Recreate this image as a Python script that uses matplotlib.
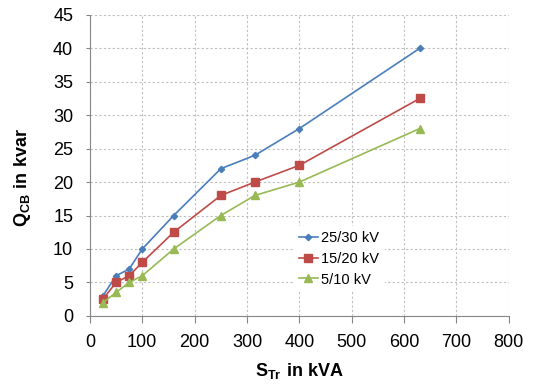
import matplotlib
matplotlib.use("Agg")
import matplotlib.pyplot as plt

plt.rcParams['font.family'] = ['Liberation Sans', 'DejaVu Sans']
plt.rcParams['mathtext.fontset'] = 'custom'
plt.rcParams['mathtext.rm'] = 'Liberation Sans'
plt.rcParams['mathtext.bf'] = 'Liberation Sans:bold'

s_tr = [25, 50, 75, 100, 160, 250, 315, 400, 630]
q_25_30 = [3, 6, 7, 10, 15, 22, 24, 28, 40]
q_15_20 = [2.5, 5, 6, 8, 12.5, 18, 20, 22.5, 32.5]
q_5_10 = [2, 3.5, 5, 6, 10, 15, 18, 20, 28]
labels = ["25/30 kV", "15/20 kV", "5/10 kV"]

fig = plt.figure(figsize=(5.35, 3.9), dpi=100)
ax = fig.add_axes([0.168, 0.190, 0.783, 0.772])

ax.plot(s_tr, q_25_30, color='#4A7EBB', marker='D', markersize=3.2, lw=1.2, label=labels[0])
ax.plot(s_tr, q_15_20, color='#BE4B48', marker='s', markersize=5.2, lw=1.2, label=labels[1])
ax.plot(s_tr, q_5_10, color='#98B954', marker='^', markersize=5.2, lw=1.2, label=labels[2])

ax.set_xlim(0, 800)
ax.set_ylim(0, 45)
ax.set_xticks(range(0, 801, 100))
ax.set_yticks(range(0, 46, 5))
ax.grid(True, linestyle=(0, (2, 2)), color='#BFBFBF', linewidth=0.8)
ax.set_axisbelow(True)
for sp in ['top', 'right']:
    ax.spines[sp].set_visible(False)
for sp in ['left', 'bottom']:
    ax.spines[sp].set_color('#868686')
ax.tick_params(axis='x', direction='out', length=5, color='#868686', pad=8, labelsize=13)
ax.tick_params(axis='y', direction='out', length=3, color='#868686', pad=9, labelsize=13)

ax.set_xlabel(r'$\mathbf{S_{Tr}\ in\ kVA}$', fontsize=13, labelpad=7)
ax.set_ylabel(r'$\mathbf{Q_{CB}\ in\ kvar}$', fontsize=13)
ax.yaxis.set_label_coords(-0.135, 0.46)

leg = ax.legend(loc='upper left', bbox_to_anchor=(0.485, 0.30), frameon=True,
                fontsize=10.5, handlelength=1.3, handletextpad=0.2,
                borderaxespad=0, labelspacing=0.45, fancybox=False)
leg.get_frame().set_facecolor('white')
leg.get_frame().set_edgecolor('none')
leg.get_frame().set_alpha(1)

fig.savefig("out.png", dpi=100)
